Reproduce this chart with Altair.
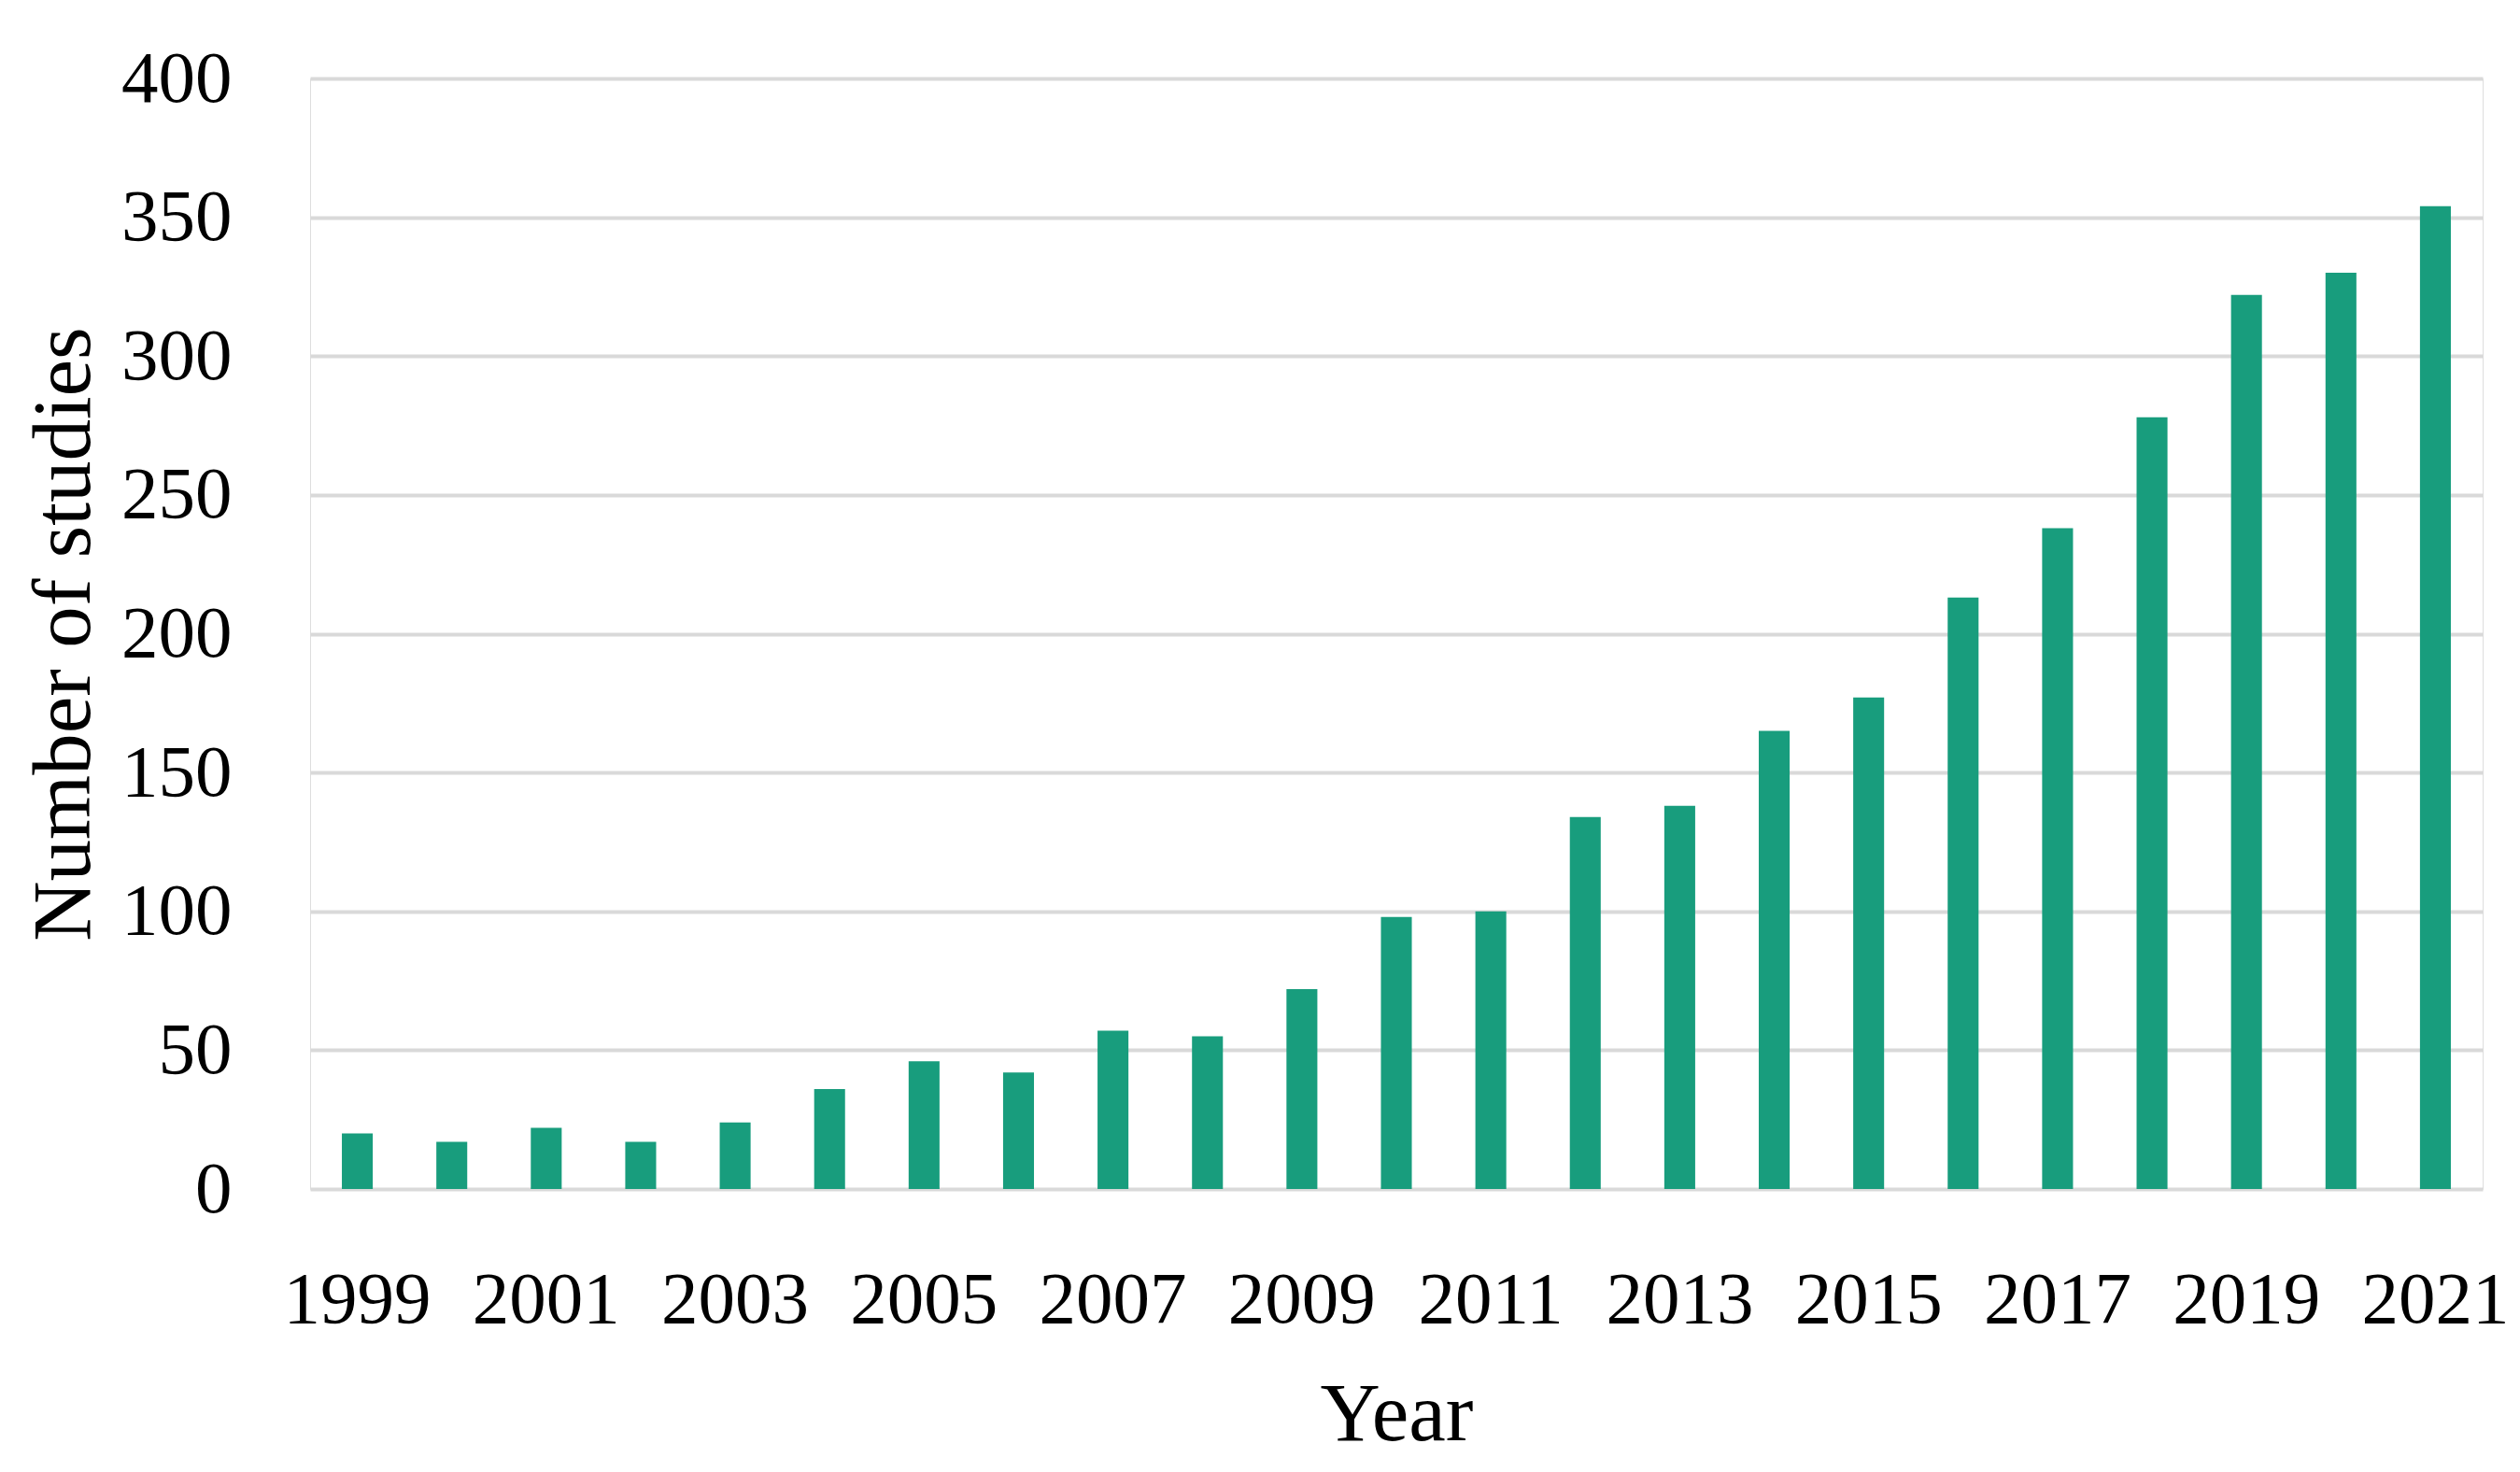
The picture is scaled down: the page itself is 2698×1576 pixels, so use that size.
import altair as alt
import pandas as pd

years = [str(y) for y in range(1999, 2022)]
studies = [20, 17, 22, 17, 24, 36, 46, 42, 57, 55, 72, 98, 100, 134, 138, 165, 177, 213, 238, 278, 322, 330, 354]
x_tick_labels = [str(y) for y in range(1999, 2022, 2)]
y_ticks = [0, 50, 100, 150, 200, 250, 300, 350, 400]

df = pd.DataFrame({"Year": years, "Studies": studies})

FONT = "Liberation Serif"

chart = (
    alt.Chart(df)
    .mark_bar(color="#189D7D")
    .encode(
        x=alt.X(
            "Year:N",
            sort=years,
            scale=alt.Scale(paddingInner=0.673, paddingOuter=0.3365),
            axis=alt.Axis(
                title="Year",
                values=x_tick_labels,
                labelAngle=0,
                ticks=False,
                tickSize=0,
                domain=False,
                grid=False,
                labelPadding=80,
                labelOverlap=False,
                titlePadding=40,
            ),
        ),
        y=alt.Y(
            "Studies:Q",
            scale=alt.Scale(domain=[0, 400], nice=False),
            axis=alt.Axis(
                title="Number of studies",
                values=y_ticks,
                ticks=False,
                tickSize=0,
                domain=False,
                grid=True,
                gridColor="#D9D9D9",
                gridWidth=4,
                labelPadding=84,
                titlePadding=18,
            ),
        ),
    )
    .properties(
        width=2326,
        height=1189,
        autosize=alt.AutoSizeParams(type="none"),
        padding={"left": 324, "top": 76, "right": 32, "bottom": 295},
    )
    .configure_view(stroke="transparent", strokeWidth=0)
    .configure(background="white")
    .configure_axis(
        labelFont=FONT,
        titleFont=FONT,
        labelFontSize=79,
        titleFontSize=89,
        labelColor="#000000",
        titleColor="#000000",
        titleFontWeight="normal",
    )
)

chart.save("out.html", embed_options={"renderer": "svg", "actions": False})
